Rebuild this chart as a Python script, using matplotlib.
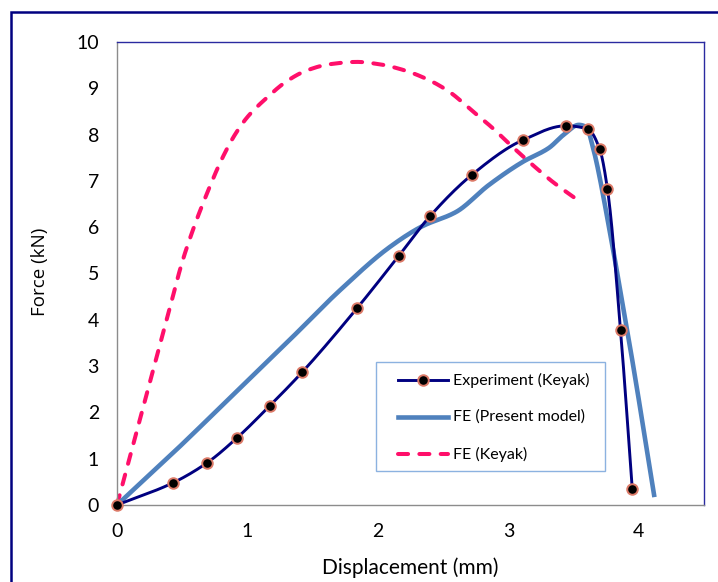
import numpy as np
import matplotlib
matplotlib.use("Agg")
import matplotlib.pyplot as plt
from matplotlib.patches import Rectangle
from matplotlib.lines import Line2D

# ---------------- data ----------------
exp_x = [0.00, 0.43, 0.69, 0.92, 1.17, 1.42, 1.84, 2.16, 2.40, 2.72, 3.11, 3.44, 3.61, 3.70, 3.76, 3.86, 3.95]
exp_y = [0.00, 0.48, 0.91, 1.45, 2.14, 2.87, 4.25, 5.38, 6.24, 7.13, 7.88, 8.19, 8.12, 7.69, 6.82, 3.78, 0.35]

fe_x = [0.00, 0.45, 0.89, 1.30, 1.71, 2.09, 2.34, 2.60, 2.85, 3.11, 3.31, 3.43, 3.54, 3.60, 3.64, 3.79, 3.87, 3.95, 4.12]
fe_y = [0.00, 1.18, 2.38, 3.50, 4.64, 5.57, 6.02, 6.33, 6.91, 7.41, 7.71, 8.01, 8.21, 8.16, 7.82, 5.72, 4.43, 3.13, 0.17]

keyak_x = [0.00, 0.10, 0.20, 0.30, 0.40, 0.50, 0.60, 0.70, 0.80, 0.90, 1.00, 1.15, 1.30, 1.45, 1.63, 1.84,
           2.01, 2.19, 2.39, 2.55, 2.72, 2.88, 3.03, 3.18, 3.34, 3.54]
keyak_y = [0.00, 1.05, 2.10, 3.15, 4.20, 5.25, 6.08, 6.80, 7.45, 7.98, 8.38, 8.80, 9.15, 9.38, 9.52, 9.57,
           9.52, 9.40, 9.18, 8.92, 8.52, 8.14, 7.74, 7.36, 6.98, 6.57]

x_ticks = [0, 1, 2, 3, 4]
y_ticks = [0, 1, 2, 3, 4, 5, 6, 7, 8, 9, 10]
labels = ["Experiment (Keyak)", "FE (Present model)", "FE (Keyak)"]


def smooth(xs, ys, n=24):
    """Monotone cubic (Fritsch-Carlson) drawing of a smoothed line through the points."""
    x = np.asarray(xs, float)
    y = np.asarray(ys, float)
    h = np.diff(x)
    d = np.diff(y) / h
    m = np.zeros_like(x)
    m[0], m[-1] = d[0], d[-1]
    for k in range(1, len(x) - 1):
        if d[k - 1] * d[k] <= 0:
            m[k] = 0.0
        else:
            w1 = 2 * h[k] + h[k - 1]
            w2 = h[k] + 2 * h[k - 1]
            m[k] = (w1 + w2) / (w1 / d[k - 1] + w2 / d[k])
    X, Y = [], []
    for k in range(len(x) - 1):
        t = np.linspace(0, 1, n, endpoint=False)
        h00 = 2 * t ** 3 - 3 * t ** 2 + 1
        h10 = t ** 3 - 2 * t ** 2 + t
        h01 = -2 * t ** 3 + 3 * t ** 2
        h11 = t ** 3 - t ** 2
        X.append(x[k] + t * h[k])
        Y.append(h00 * y[k] + h10 * h[k] * m[k] + h01 * y[k + 1] + h11 * h[k] * m[k + 1])
    X.append([x[-1]])
    Y.append([y[-1]])
    return np.concatenate(X), np.concatenate(Y)


W, H = 718, 582
tick_font = ['Lato', 'DejaVu Sans']

fig = plt.figure(figsize=(W / 100, H / 100), dpi=100)
fig.patch.set_facecolor('white')


def fx(px):
    return px / W


def fy(py):
    return 1 - py / H


# outer frame (runs off the right and bottom edges)
fig.patches.append(Rectangle((fx(11), -0.3), 1.5, 1.3 - 12 / H, transform=fig.transFigure,
                             fill=False, edgecolor='#000080', linewidth=1.8, zorder=0))

ax = fig.add_axes([fx(117), fy(505), 587 / W, 463 / H])
ax.set_xlim(0, 4.5)
ax.set_ylim(0, 10)

navy = '#000080'
blue = '#4f81bd'
pink = '#ff0f6a'
medge = '#dc7a68'

pink_kw = dict(color=pink, linewidth=2.9, dashes=(2.5, 2.8), dash_capstyle='round')
blue_kw = dict(color=blue, linewidth=3.3)
exp_kw = dict(color=navy, linewidth=2.1)
mk_kw = dict(marker='o', markersize=7.6, markerfacecolor='black', markeredgecolor=medge, markeredgewidth=1.4)

sx, sy = smooth(keyak_x, keyak_y)
ax.plot(sx, sy, zorder=2, clip_on=False, **pink_kw)

sx, sy = smooth(fe_x, fe_y)
ax.plot(sx, sy, zorder=3, clip_on=False, solid_capstyle='butt', **blue_kw)

sx, sy = smooth(exp_x, exp_y)
ax.plot(sx, sy, zorder=4, clip_on=False, **exp_kw)
ax.plot(exp_x, exp_y, linestyle='none', zorder=5, clip_on=False, **mk_kw)

ax.set_xticks(x_ticks)
ax.set_yticks(y_ticks)
ax.tick_params(length=0, labelsize=14)
ax.tick_params(axis='x', pad=13)
ax.tick_params(axis='y', pad=13)
for lab in ax.get_xticklabels() + ax.get_yticklabels():
    lab.set_family(tick_font)

for s in ['left', 'bottom']:
    ax.spines[s].set_color('#8c8c8c')
    ax.spines[s].set_linewidth(1.0)
for s in ['top', 'right']:
    ax.spines[s].set_color('#2a2aa0')
    ax.spines[s].set_linewidth(1.0)

fig.text(fx(410), fy(568), "Displacement (mm)", ha='center', va='center', fontsize=15, family=tick_font)
fig.text(fx(40), fy(272), "Force (kN)", ha='center', va='center', rotation=90, fontsize=13.5,
         family=['Open Sans', 'DejaVu Sans'])

# legend box (drawn by hand to match the reference placement)
fig.patches.append(Rectangle((fx(376), fy(471)), (605 - 376) / W, (471 - 362) / H, transform=fig.transFigure,
                             facecolor='white', edgecolor='#8cb2e0', linewidth=1.0, zorder=6))
rows = [380, 417, 454]
styles = [dict(**exp_kw), dict(**blue_kw), dict(**pink_kw)]
for r, lab, st in zip(rows, labels, styles):
    fig.add_artist(Line2D([fx(398), fx(448)], [fy(r), fy(r)], transform=fig.transFigure, zorder=7, **st))
    fig.text(fx(453), fy(r), lab, ha='left', va='center', fontsize=11.5, family=tick_font, zorder=8)
fig.add_artist(Line2D([fx(423)], [fy(rows[0])], transform=fig.transFigure, linestyle='none', zorder=8, **mk_kw))

fig.savefig('out.png', dpi=100)
